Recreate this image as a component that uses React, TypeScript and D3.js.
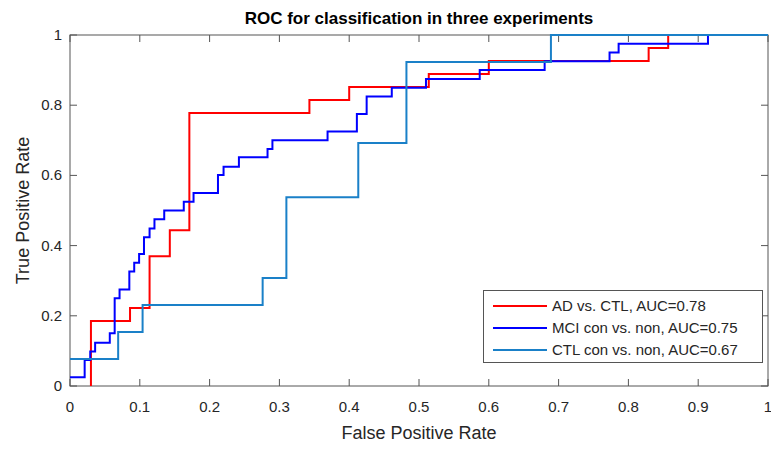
import { useRef, useEffect } from 'react';
import * as d3 from 'd3';

// ROC step vertices: at each fpr the curve jumps up to tpr
const adFpr = [0.03, 0.03, 0.086, 0.114, 0.143, 0.171, 0.343, 0.4, 0.514, 0.6, 0.829, 0.857, 1];
const adTpr = [0, 0.185, 0.222, 0.37, 0.444, 0.778, 0.815, 0.852, 0.889, 0.926, 0.963, 1, 1];

const mciFpr = [0, 0.021, 0.029, 0.036, 0.057, 0.064, 0.071, 0.085, 0.092, 0.099, 0.106, 0.114, 0.121, 0.135, 0.163, 0.177,
  0.212, 0.22, 0.242, 0.283, 0.29, 0.369, 0.411, 0.425, 0.461, 0.51, 0.587, 0.68, 0.773, 0.786, 0.914, 1];
const mciTpr = [0.025, 0.074, 0.098, 0.123, 0.15, 0.25, 0.275, 0.326, 0.351, 0.376, 0.424, 0.449, 0.475, 0.5, 0.525, 0.55,
  0.601, 0.625, 0.652, 0.675, 0.7, 0.725, 0.775, 0.825, 0.85, 0.875, 0.9, 0.925, 0.95, 0.975, 1, 1];

const ctlFpr = [0, 0.069, 0.104, 0.276, 0.31, 0.413, 0.482, 0.689, 1];
const ctlTpr = [0.077, 0.154, 0.231, 0.308, 0.538, 0.692, 0.923, 1, 1];

const seriesNames = ['AD vs. CTL, AUC=0.78', 'MCI con vs. non, AUC=0.75', 'CTL con vs. non, AUC=0.67'];
const seriesColors = ['#ff0000', '#0000ff', '#1a80c8'];

const xTicks = [0, 0.1, 0.2, 0.3, 0.4, 0.5, 0.6, 0.7, 0.8, 0.9, 1];
const yTicks = [0, 0.2, 0.4, 0.6, 0.8, 1];

const App = () => {
  const svgRef = useRef<SVGSVGElement>(null);

  useEffect(() => {
    if (!svgRef.current) return;
    const width = 771;
    const height = 450;
    const margin = { top: 35, right: 3, bottom: 64, left: 70 };
    const font = '"Liberation Sans", Arial, sans-serif';
    const axisColor = '#555';
    const textColor = '#262626';

    const svg = d3.select(svgRef.current)
      .attr('width', width)
      .attr('height', height)
      .style('font-family', font);
    svg.selectAll('*').remove();

    const x = d3.scaleLinear().domain([0, 1]).range([margin.left, width - margin.right]);
    const y = d3.scaleLinear().domain([0, 1]).range([height - margin.bottom, margin.top]);

    svg.append('rect')
      .attr('width', width).attr('height', height).attr('fill', '#fff');

    // box with inward ticks on all sides
    const x0 = x(0), x1 = x(1), y0 = y(0), y1 = y(1);
    const tick = 7;
    const axes = svg.append('g').attr('stroke', axisColor).attr('stroke-width', 1).attr('fill', 'none');
    axes.append('rect')
      .attr('x', x0).attr('y', y1).attr('width', x1 - x0).attr('height', y0 - y1);
    xTicks.forEach(t => {
      axes.append('line').attr('x1', x(t)).attr('x2', x(t)).attr('y1', y0).attr('y2', y0 - tick);
      axes.append('line').attr('x1', x(t)).attr('x2', x(t)).attr('y1', y1).attr('y2', y1 + tick);
    });
    yTicks.forEach(t => {
      axes.append('line').attr('x1', x0).attr('x2', x0 + tick).attr('y1', y(t)).attr('y2', y(t));
      axes.append('line').attr('x1', x1).attr('x2', x1 - tick).attr('y1', y(t)).attr('y2', y(t));
    });

    const series = [
      adFpr.map((f, i) => [f, adTpr[i]]),
      mciFpr.map((f, i) => [f, mciTpr[i]]),
      ctlFpr.map((f, i) => [f, ctlTpr[i]]),
    ];

    const line = d3.line<number[]>()
      .x(d => x(d[0]))
      .y(d => y(d[1]))
      .curve(d3.curveStepAfter);

    series.forEach((pts, i) => {
      svg.append('path')
        .datum(pts)
        .attr('fill', 'none')
        .attr('stroke', seriesColors[i])
        .attr('stroke-width', 2)
        .attr('d', line);
    });

    svg.append('g').selectAll('text')
      .data(xTicks)
      .join('text')
      .attr('x', d => x(d))
      .attr('y', y0 + 26)
      .attr('text-anchor', 'middle')
      .attr('font-size', 15)
      .attr('fill', textColor)
      .text(d => String(d));

    svg.append('g').selectAll('text')
      .data(yTicks)
      .join('text')
      .attr('x', x0 - 8)
      .attr('y', d => y(d) + 5)
      .attr('text-anchor', 'end')
      .attr('font-size', 15)
      .attr('fill', textColor)
      .text(d => String(d));

    svg.append('text')
      .attr('x', (x0 + x1) / 2)
      .attr('y', 439)
      .attr('text-anchor', 'middle')
      .attr('font-size', 18)
      .attr('fill', textColor)
      .text('False Positive Rate');

    svg.append('text')
      .attr('transform', `translate(29,${(y0 + y1) / 2}) rotate(-90)`)
      .attr('text-anchor', 'middle')
      .attr('font-size', 18)
      .attr('fill', textColor)
      .text('True Positive Rate');

    svg.append('text')
      .attr('x', (x0 + x1) / 2)
      .attr('y', 24)
      .attr('text-anchor', 'middle')
      .attr('font-size', 17)
      .attr('font-weight', 'bold')
      .attr('fill', '#000')
      .text('ROC for classification in three experiments');

    // legend
    const lg = svg.append('g');
    lg.append('rect')
      .attr('x', 483.5).attr('y', 290.5).attr('width', 279).attr('height', 72)
      .attr('fill', '#fff').attr('stroke', axisColor).attr('stroke-width', 1);
    seriesNames.forEach((name, i) => {
      const ly = 306 + i * 22;
      lg.append('line')
        .attr('x1', 493).attr('x2', 547).attr('y1', ly).attr('y2', ly)
        .attr('stroke', seriesColors[i]).attr('stroke-width', 2);
      lg.append('text')
        .attr('x', 552).attr('y', ly + 5)
        .attr('font-size', 15)
        .attr('fill', textColor)
        .text(name);
    });
  }, []);

  return <svg ref={svgRef} style={{ display: 'block', position: 'absolute', left: 0, top: 0 }} />;
};

export default App;
